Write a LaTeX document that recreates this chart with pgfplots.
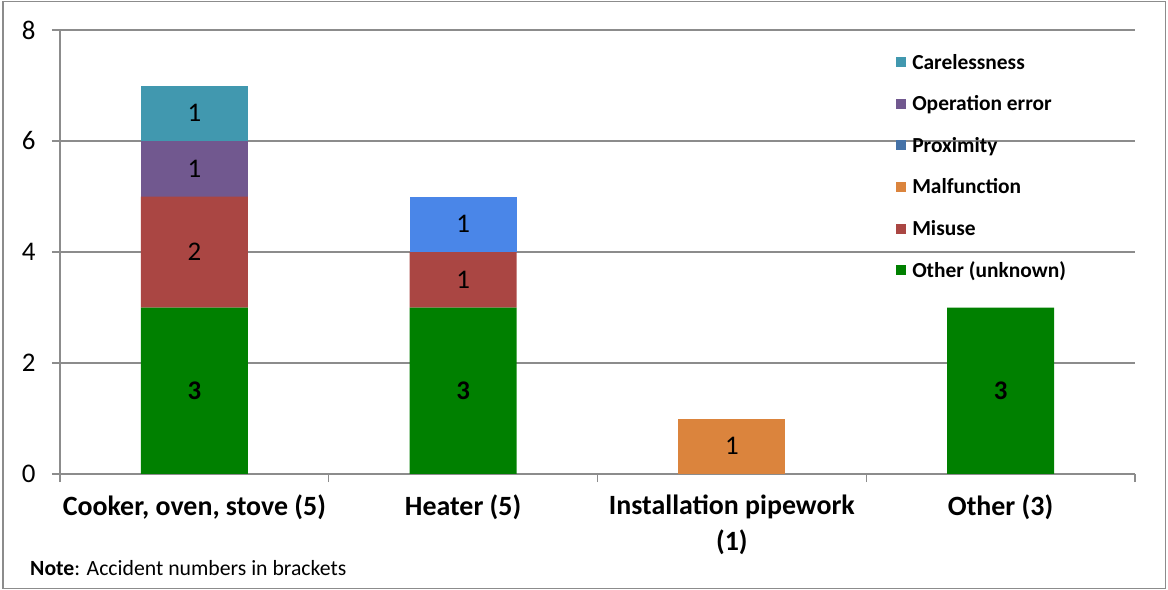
\documentclass[border=0pt]{standalone}
\usepackage{pgfplots}
\pgfplotsset{compat=1.18}
\usepackage{pgfplotstable}
\usepackage{fontspec}
\setmainfont{Carlito}
\definecolor{cgreen}{HTML}{008000}
\definecolor{cred}{HTML}{AA4643}
\definecolor{corange}{HTML}{DB843D}
\definecolor{cproxbar}{HTML}{4A86E8}
\definecolor{cproxleg}{HTML}{4572A7}
\definecolor{cpurple}{HTML}{71588F}
\definecolor{cteal}{HTML}{4198AF}
\definecolor{gridgray}{HTML}{8C8C8C}
\definecolor{framegray}{HTML}{8C8C8C}

\pgfplotstableread{
x other misuse malf prox operr care
0 3 2 0 0 1 1
1 3 1 0 1 0 0
2 0 0 1 0 0 0
3 3 0 0 0 0 0
}\data

\pgfplotsset{
  seg/.style 2 args={fill=#1, draw=none,
    point meta=explicit,
    nodes near coords={\pgfmathfloatifflags{\pgfplotspointmeta}{0}{}{\pgfmathprintnumber{\pgfplotspointmeta}}},
    every node near coord/.append style={anchor=center,
      font=\fontsize{27}{32}\selectfont, text=black}},
}

\begin{document}
\begin{tikzpicture}
\path[use as bounding box] (0,0) rectangle (1168bp,590bp);
\draw[framegray, line width=1.2bp] (3bp,1.5bp) rectangle (1165.5bp,588.5bp);
\begin{axis}[
  at={(60bp,116bp)}, anchor=south west,
  scale only axis, width=1075bp, height=444bp,
  xmin=-0.5, xmax=3.5, ymin=0, ymax=8,
  ybar stacked, bar width=107bp,
  axis lines*=left,
  axis line style={draw=gridgray, line width=1.2bp},
  ymajorgrids, grid style={gridgray, line width=1.2bp},
  ytick={0,2,4,6,8},
  xtick={0,1,2,3},
  xticklabels={{Cooker, oven, stove (5)},{Heater (5)},{Installation pipework\\(1)},{Other (3)}},
  minor xtick={-0.5,0.5,1.5,2.5,3.5},
  tick align=outside,
  major tick length=8bp, minor tick length=8bp,
  tick style={gridgray, line width=1.2bp},
  major x tick style={draw=none},
  /pgf/number format/assume math mode=true,
  yticklabel style={font=\fontsize{27}{32}\selectfont, anchor=east, xshift=-13bp},
  xticklabel style={font=\bfseries\fontsize{28}{36}\selectfont, align=center, anchor=north, yshift=-9bp},
  reverse legend,
  legend style={draw=none, fill=none, at={(rel axis cs:0.775,0.955)}, anchor=north west,
    font=\bfseries\fontsize{21.5}{25}\selectfont, row sep=21bp,
    cells={anchor=west}},
  legend image code/.code={\fill[#1] (0bp,-5bp) rectangle (10bp,5bp);},
  legend style={/tikz/every odd column/.append style={column sep=4bp}},
]
\addplot[seg={cgreen}{other}, nodes near coords={\pgfmathfloatifflags{\pgfplotspointmeta}{0}{}{\textbf{\pgfmathprintnumber{\pgfplotspointmeta}}}}] table[x=x,y=other,meta=other]{\data};
\addlegendentry{Other (unknown)}
\addplot[seg={cred}{misuse}] table[x=x,y=misuse,meta=misuse]{\data};
\addlegendentry{Misuse}
\addplot[seg={corange}{malf}] table[x=x,y=malf,meta=malf]{\data};
\addlegendentry{Malfunction}
\addplot[seg={cproxbar}{prox}, legend image code/.code={\fill[cproxleg] (0bp,-5bp) rectangle (10bp,5bp);}] table[x=x,y=prox,meta=prox]{\data};
\addlegendentry{Proximity}
\addplot[seg={cpurple}{operr}] table[x=x,y=operr,meta=operr]{\data};
\addlegendentry{Operation error}
\addplot[seg={cteal}{care}] table[x=x,y=care,meta=care]{\data};
\addlegendentry{Carelessness}
\end{axis}
\node[anchor=base west, font=\fontsize{21.8}{25}\selectfont, inner sep=0pt] at (30bp,15bp) {\textbf{Note}: Accident numbers in brackets};
\end{tikzpicture}
\end{document}
